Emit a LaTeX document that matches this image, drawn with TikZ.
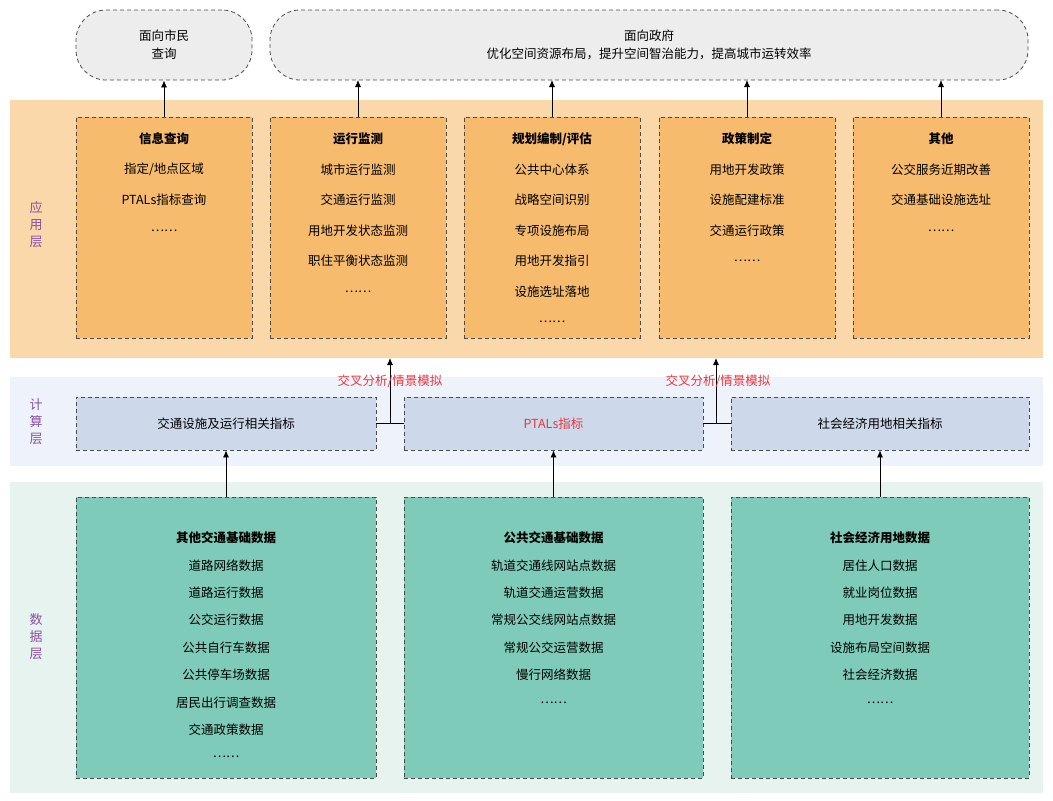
\documentclass[tikz,border=0pt]{standalone}
\usepackage{fontspec}
\setmainfont{Liberation Serif}
\newfontfamily\cjk{Noto Sans CJK SC}
\usetikzlibrary{arrows.meta}
\definecolor{bandA}{HTML}{FBD8A9}
\definecolor{boxA}{HTML}{F6BB6C}
\definecolor{bandB}{HTML}{EEF3FB}
\definecolor{boxB}{HTML}{CDD9EA}
\definecolor{bandC}{HTML}{E6F3EF}
\definecolor{boxC}{HTML}{7DCBB8}
\definecolor{lay}{HTML}{8B4FA6}
\definecolor{redt}{HTML}{E8383D}
\tikzset{
 dbox/.style={draw=black!70,dashed,dash pattern=on 4pt off 3pt,line width=0.8pt},
 txt/.style={font=\cjk\fontsize{12.5}{14}\selectfont,inner sep=0pt},
 arr/.style={-{Latex[length=7pt,width=6pt]},line width=0.8pt},
 layl/.style={font=\cjk\fontsize{13}{17}\selectfont,text=lay,align=center}
}
\newcommand\myitems[4]{% x, y0, step, list
  \foreach \t [count=\i] in {#4} {
    \ifnum\i=1 \gdef\ff{\bfseries}\else\gdef\ff{}\fi
    \pgfmathsetmacro\yy{#2+#3*(\i-1)}
    \node[txt] at (#1,\yy) {\ff\t};}}
\begin{document}
\begin{tikzpicture}[x=1pt,y=-1pt]
\useasboundingbox (0,0) rectangle (1053,801);
% bands
\fill[bandA] (10,100) rectangle (1043,358);
\fill[bandB] (10,377) rectangle (1043,466);
\fill[bandC] (10,482) rectangle (1043,793);
\node[layl] (l1) at (36,225) {应\\用\\层};
\node[layl] (l2) at (36,422) {计\\算\\层};
\node[layl] (l3) at (36,637) {数\\据\\层};
% top
\node[dbox,fill=black!7,rounded corners=30pt,minimum width=176pt,minimum height=70pt,txt,align=center] (t1) at (164,45) {面向市民\\[4pt]查询};
\node[dbox,fill=black!7,rounded corners=30pt,minimum width=758pt,minimum height=70pt,txt,align=center] (t2) at (649,45) {面向政府\\[4pt]优化空间资源布局，提升空间智治能力，提高城市运转效率};
% application boxes
\foreach \n/\x in {a1/164,a2/358,a3/552,a4/747,a5/941}
  \node[dbox,fill=boxA,minimum width=176pt,minimum height=221pt,inner sep=0pt] (\n) at (\x,227.5) {};
\myitems{164}{139}{30.5}{信息查询,指定/地点区域,{PTALs指标查询},……}
\myitems{358}{139}{30.5}{运行监测,城市运行监测,交通运行监测,用地开发状态监测,职住平衡状态监测,……}
\myitems{552}{139}{30.5}{规划编制/评估,公共中心体系,战略空间识别,专项设施布局,用地开发指引,设施选址落地,……}
\myitems{747}{139}{30.5}{政策制定,用地开发政策,设施配建标准,交通运行政策,……}
\myitems{941}{139}{30.5}{其他,公交服务近期改善,交通基础设施选址,……}
\draw[arr] (a1.north) -- (t1.south);
\foreach \n/\x in {a2/358,a3/552,a4/747,a5/941}
  \draw[arr] (\n.north) -- (\x,80);
% compute
\node[dbox,fill=boxB,minimum width=300pt,minimum height=53pt,txt] (c1) at (226,423.5) {交通设施及运行相关指标};
\node[dbox,fill=boxB,minimum width=299pt,minimum height=53pt,txt,text=redt] (c2) at (553.5,423.5) {PTALs指标};
\node[dbox,fill=boxB,minimum width=298pt,minimum height=53pt,txt] (c3) at (880,423.5) {社会经济用地相关指标};
\coordinate (j1) at (390,423.5);
\coordinate (j2) at (716,423.5);
\draw[line width=0.8pt] (c1.east) -- (c2.west);
\draw[line width=0.8pt] (c2.east) -- (c3.west);
\draw[arr] (j1) -- (390,358);
\draw[arr] (j2) -- (716,358);
\node[txt,text=redt] (x1) at (390,381) {交叉分析/情景模拟};
\node[txt,text=redt] (x2) at (718,381) {交叉分析/情景模拟};
% data
\node[dbox,fill=boxC,minimum width=300pt,minimum height=281pt] (d1) at (226,637.5) {};
\node[dbox,fill=boxC,minimum width=299pt,minimum height=281pt] (d2) at (553.5,637.5) {};
\node[dbox,fill=boxC,minimum width=298pt,minimum height=281pt] (d3) at (880,637.5) {};
\myitems{226}{538}{27.4}{其他交通基础数据,道路网络数据,道路运行数据,公交运行数据,公共自行车数据,公共停车场数据,居民出行调查数据,交通政策数据,……}
\myitems{553.5}{538}{27.4}{公共交通基础数据,轨道交通线网站点数据,轨道交通运营数据,常规公交线网站点数据,常规公交运营数据,慢行网络数据,……}
\myitems{880}{538}{27.4}{社会经济用地数据,居住人口数据,就业岗位数据,用地开发数据,设施布局空间数据,社会经济数据,……}
\draw[arr] (d1.north) -- (c1.south);
\draw[arr] (d2.north) -- (c2.south);
\draw[arr] (d3.north) -- (c3.south);
\end{tikzpicture}
\end{document}
